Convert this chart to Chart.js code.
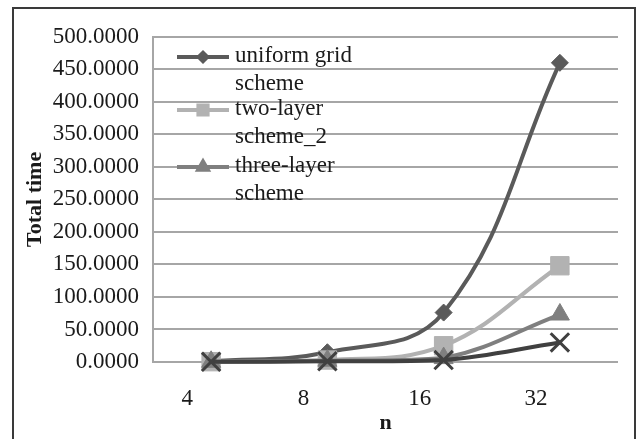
<!DOCTYPE html>
<html>
<head>
<meta charset="utf-8">
<script src="https://cdn.jsdelivr.net/npm/chart.js@4.4.1/dist/chart.umd.min.js"></script>
<style>
  html, body { margin: 0; padding: 0; background: #fff; }
  #frame {
    position: absolute; left: 12px; top: 7px;
    width: 620px; height: 432px;
    border: 2px solid #3a3a3a; border-bottom: none;
  }
</style>
</head>
<body>
<div id="frame"><canvas id="chart"></canvas></div>
<script>
const categories = ["4", "8", "16", "32"];
const uniformGrid = [1, 15, 76, 460];
const twoLayer = [0.5, 3, 25, 148];
const threeLayer = [0.3, 2, 6, 73];
const fourthSeries = [0.2, 1, 3, 30];

const seriesNames = ["uniform grid scheme", "two-layer scheme_2", "three-layer scheme"];
const legendLines = [["uniform grid", "scheme"], ["two-layer", "scheme_2"], ["three-layer", "scheme"]];

const yTicks = [0, 50, 100, 150, 200, 250, 300, 350, 400, 450, 500];

const serif = "'Liberation Serif', 'Times New Roman', serif";

// legend drawn by hand so that each label can wrap to two lines
const legendPlugin = {
  id: "wrapLegend",
  afterDatasetsDraw(chart) {
    const ctx = chart.ctx;
    const x0 = 163, xText = 221;
    const tops = [48, 101, 158];
    ctx.save();
    legendLines.forEach((lines, i) => {
      const ds = chart.data.datasets[i];
      const y = tops[i];
      ctx.strokeStyle = ds.borderColor;
      ctx.lineWidth = 4;
      ctx.beginPath();
      ctx.moveTo(x0, y);
      ctx.lineTo(x0 + 52, y);
      ctx.stroke();
      ctx.fillStyle = ds.pointBackgroundColor;
      ctx.strokeStyle = ds.pointBackgroundColor;
      Chart.helpers.drawPoint(ctx, {
        pointStyle: ds.pointStyle, radius: ds.pointRadius * 0.5, borderWidth: 1
      }, x0 + 26, y);
      ctx.fillStyle = "#1a1a1a";
      ctx.font = "23px " + serif;
      ctx.textBaseline = "middle";
      ctx.fillText(lines[0], xText, y - 1);
      ctx.fillText(lines[1], xText, y + 27);
    });
    ctx.restore();
  }
};

const mk = (label, data, color, style, radius, order) => ({
  label: label,
  data: data,
  borderColor: color,
  backgroundColor: color,
  pointBackgroundColor: color,
  pointBorderColor: color,
  pointStyle: style,
  pointRadius: radius,
  pointBorderWidth: style === "crossRot" ? 3 : 1,
  borderWidth: 4,
  tension: 0.4,
  clip: false,
  order: order
});

new Chart(document.getElementById("chart"), {
  type: "line",
  data: {
    labels: categories,
    datasets: [
      mk(seriesNames[0], uniformGrid, "#5a5a5a", "rectRot", 8.5, 4),
      mk(seriesNames[1], twoLayer, "#b2b2b2", "rect", 13, 3),
      mk(seriesNames[2], threeLayer, "#7f7f7f", "triangle", 11, 2),
      mk("", fourthSeries, "#404040", "crossRot", 13, 1)
    ]
  },
  options: {
    responsive: true,
    maintainAspectRatio: false,
    animation: false,
    layout: { padding: { left: 0, right: 12, top: 16, bottom: 0 } },
    plugins: { legend: { display: false }, tooltip: { enabled: false } },
    scales: {
      x: {
        offset: true,
        grid: { display: false, drawTicks: false },
        border: { display: false },
        ticks: {
          color: "#1a1a1a",
          font: { family: serif, size: 23 },
          padding: 23,
          labelOffset: -24
        },
        title: {
          display: true, text: "n", color: "#1a1a1a",
          font: { family: serif, size: 22, weight: "bold" },
          padding: { top: 0, bottom: 4 }
        },
        afterFit(scale) { scale.height = 79; }
      },
      y: {
        min: 0,
        max: 500,
        afterBuildTicks(scale) { scale.ticks = yTicks.map(v => ({ value: v })); },
        grid: { color: "#a6a6a6", lineWidth: 2, drawTicks: false },
        border: { display: true, color: "#a6a6a6", width: 2 },
        ticks: {
          color: "#1a1a1a",
          font: { family: serif, size: 23 },
          padding: 14,
          callback: v => Number(v).toFixed(4)
        },
        title: {
          display: true, text: "Total time", color: "#1a1a1a",
          font: { family: serif, size: 22, weight: "bold" },
          padding: { top: 8, bottom: 0 }
        },
        afterFit(scale) { scale.width = 139; }
      }
    }
  },
  plugins: [legendPlugin]
});
</script>
</body>
</html>
